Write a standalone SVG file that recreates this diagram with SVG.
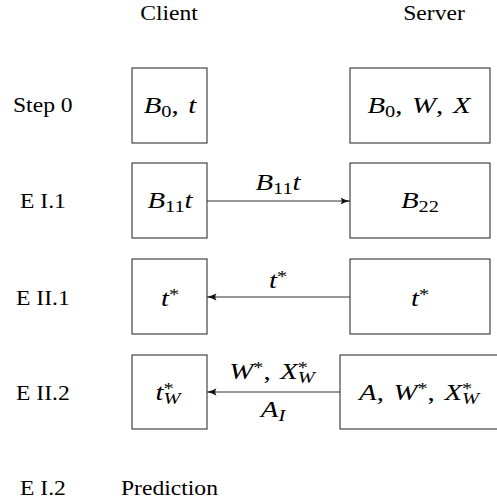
<svg xmlns="http://www.w3.org/2000/svg" width="497" height="504" viewBox="0 0 497 504">
<style>
.t{font-family:'Liberation Serif','DejaVu Serif',serif;font-size:20px;fill:#000}
.m{font-family:'Liberation Serif','DejaVu Serif',serif;font-size:24px;fill:#000;font-style:italic}
.u{font-style:normal}
.s{font-size:17px}
.box{fill:#fff;stroke:#333;stroke-width:1.1}
.ln{stroke:#333;stroke-width:1.1;fill:none}
</style>
<defs>
<marker id="ah" viewBox="0 0 10 10" refX="9.5" refY="5" markerWidth="10" markerHeight="10" markerUnits="userSpaceOnUse" orient="auto">
<path d="M0,1.3 Q4,4 10,5 Q4,6 0,8.7 Q2.5,5 0,1.3 Z" fill="#111"/>
</marker>
</defs>
<g id="headers">
<g transform="translate(169,20) scale(1.18,1)"><text class="t" text-anchor="middle">Client</text></g>
<g transform="translate(434,20) scale(1.18,1)"><text class="t" text-anchor="middle">Server</text></g>
</g>
<g id="row-labels">
<g transform="translate(13,112) scale(1.18,1)"><text class="t">Step 0</text></g>
<g transform="translate(20,208) scale(1.18,1)"><text class="t">E I.1</text></g>
<g transform="translate(16,305) scale(1.18,1)"><text class="t">E II.1</text></g>
<g transform="translate(16,400) scale(1.18,1)"><text class="t">E II.2</text></g>
<g transform="translate(20,495) scale(1.18,1)"><text class="t">E I.2</text></g>
<g transform="translate(121,495) scale(1.18,1)"><text class="t">Prediction</text></g>
</g>
<g id="c0"><rect class="box" x="132" y="68" width="75" height="75"/>
<g transform="translate(170,113) scale(1.2,1)"><text class="m" text-anchor="middle">B<tspan class="u s" dy="4">0</tspan><tspan class="u" dy="-4">, </tspan><tspan dx="2">t</tspan></text></g></g>
<g id="s0"><rect class="box" x="350" y="68" width="140" height="75"/>
<g transform="translate(419,113) scale(1.2,1)"><text class="m" text-anchor="middle">B<tspan class="u s" dy="4">0</tspan><tspan class="u" dy="-4">, </tspan><tspan dx="2">W</tspan><tspan class="u">, </tspan><tspan dx="2">X</tspan></text></g></g>
<g id="c1"><rect class="box" x="132" y="163" width="75" height="75"/>
<g transform="translate(170,208) scale(1.2,1)"><text class="m" text-anchor="middle">B<tspan class="u s" dy="4">11</tspan><tspan dy="-4">t</tspan></text></g></g>
<g id="s1"><rect class="box" x="350" y="163" width="140" height="75"/>
<g transform="translate(420,208) scale(1.2,1)"><text class="m" text-anchor="middle">B<tspan class="u s" dy="4">22</tspan></text></g></g>
<g id="c2"><rect class="box" x="132" y="259" width="75" height="75"/>
<g transform="translate(170,306) scale(1.2,1)"><text class="m" text-anchor="middle">t<tspan class="u s" dy="-6">*</tspan></text></g></g>
<g id="s2"><rect class="box" x="350" y="259" width="140" height="75"/>
<g transform="translate(420,306) scale(1.2,1)"><text class="m" text-anchor="middle">t<tspan class="u s" dy="-6">*</tspan></text></g></g>
<g id="c3"><rect class="box" x="132" y="355" width="75" height="74"/>
<g transform="translate(168,400) scale(1.2,1)"><text class="m" text-anchor="middle">t<tspan class="u s" dy="-6">*</tspan><tspan class="s" dx="-8.5" dy="10">W</tspan></text></g></g>
<g id="s3"><rect class="box" x="340" y="355" width="170" height="74"/>
<g transform="translate(419,400) scale(1.2,1)"><text class="m" text-anchor="middle">A<tspan class="u">, </tspan><tspan dx="2">W</tspan><tspan class="u s" dy="-6">*</tspan><tspan class="u" dy="6">, </tspan><tspan dx="2">X</tspan><tspan class="u s" dy="-6">*</tspan><tspan class="s" dx="-8.5" dy="10">W</tspan></text></g></g>
<g id="connectors">
<line class="ln" x1="207" y1="201" x2="350" y2="201" marker-end="url(#ah)"/>
<g transform="translate(278,190) scale(1.2,1)"><text class="m" text-anchor="middle">B<tspan class="u s" dy="4">11</tspan><tspan dy="-4">t</tspan></text></g>
<line class="ln" x1="350" y1="297" x2="207" y2="297" marker-end="url(#ah)"/>
<g transform="translate(278,288) scale(1.2,1)"><text class="m" text-anchor="middle">t<tspan class="u s" dy="-6">*</tspan></text></g>
<line class="ln" x1="340" y1="392" x2="207" y2="392" marker-end="url(#ah)"/>
<g transform="translate(272,379) scale(1.2,1)"><text class="m" text-anchor="middle">W<tspan class="u s" dy="-6">*</tspan><tspan class="u" dy="6">, </tspan><tspan dx="2">X</tspan><tspan class="u s" dy="-6">*</tspan><tspan class="s" dx="-8.5" dy="10">W</tspan></text></g>
<g transform="translate(273,417) scale(1.2,1)"><text class="m" text-anchor="middle">A<tspan class="s" dy="4">I</tspan></text></g>
</g>
</svg>
